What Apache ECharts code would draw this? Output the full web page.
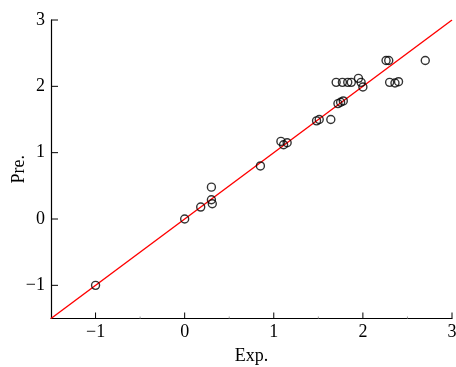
<!DOCTYPE html>
<html>
<head>
<meta charset="utf-8">
<script src="https://cdn.jsdelivr.net/npm/echarts@6/dist/echarts.min.js"></script>
<style>html,body{margin:0;padding:0;background:#fff}#c{width:456px;height:367px}</style>
</head>
<body>
<div id="c"></div>
<script>
const expValues = [-1, 0, 0.18, 0.30, 0.30, 0.31, 0.85, 1.08, 1.11, 1.15, 1.48, 1.51, 1.64, 1.72, 1.75, 1.78, 1.70, 1.77, 1.83, 1.87, 1.95, 1.98, 2.00, 2.26, 2.29, 2.30, 2.36, 2.40, 2.70];
const preValues = [-1, 0, 0.18, 0.48, 0.29, 0.23, 0.80, 1.17, 1.12, 1.15, 1.48, 1.50, 1.50, 1.74, 1.76, 1.78, 2.06, 2.06, 2.06, 2.06, 2.12, 2.06, 1.99, 2.39, 2.39, 2.06, 2.05, 2.07, 2.39];
const refLineX = [-1.5, 3];
const refLineY = [-1.5, 3];
const tickValues = [-1, 0, 1, 2, 3];
const minorTickValues = [-0.5, 0.5, 1.5, 2.5];
const axisMin = -1.5;
const axisMax = 3;
const xName = 'Exp.';
const yName = 'Pre.';

const pts = expValues.map((v, i) => [v, preValues[i]]);
const linePts = refLineX.map((v, i) => [v, refLineY[i]]);
const tickData = tickValues.map(v => [v, 1]).concat(minorTickValues.map(v => [v, 0]));
const font = "'Liberation Serif', 'Times New Roman', serif";
const fmt = v => (v < 0 ? '\u2212' + Math.abs(v) : String(v));

function renderTicks(params, api) {
  const v = api.value(0);
  const major = api.value(1) === 1;
  const px = api.coord([v, axisMin]);
  const py = api.coord([axisMin, v]);
  const lenX = major ? 6 : 2;
  const lenY = major ? 7 : 0;
  const col = major ? '#000' : '#999';
  const children = [{
    type: 'line', shape: {x1: px[0], y1: px[1], x2: px[0], y2: px[1] - lenX},
    style: {stroke: col, lineWidth: 1}
  }];
  if (lenY > 0) {
    children.push({
      type: 'line', shape: {x1: py[0], y1: py[1], x2: py[0] + lenY, y2: py[1]},
      style: {stroke: col, lineWidth: 1}
    });
  }
  return {type: 'group', children: children};
}

const chart = echarts.init(document.getElementById('c'), null, {renderer: 'canvas'});
chart.setOption({
  animation: false,
  backgroundColor: '#fff',
  grid: {left: 51, right: 4, top: 20, bottom: 48.5, containLabel: false, outerBoundsMode: 'none'},
  xAxis: {
    type: 'value', min: axisMin, max: axisMax, interval: 0.5,
    name: xName, nameLocation: 'middle', nameGap: 29, nameMoveOverlap: false,
    nameTextStyle: {fontFamily: font, fontSize: 18, color: '#000'},
    axisLine: {show: true, onZero: false, lineStyle: {color: '#000', width: 1.2}},
    axisTick: {show: false},
    axisLabel: {fontFamily: font, fontSize: 18, color: '#000', margin: 5, customValues: tickValues, formatter: fmt},
    splitLine: {show: false}
  },
  yAxis: {
    type: 'value', min: axisMin, max: axisMax, interval: 0.5,
    name: yName, nameLocation: 'middle', nameGap: 23, nameMoveOverlap: false,
    nameTextStyle: {fontFamily: font, fontSize: 18, color: '#000'},
    axisLine: {show: true, onZero: false, lineStyle: {color: '#000', width: 1.2}},
    axisTick: {show: false},
    axisLabel: {fontFamily: font, fontSize: 18, color: '#000', margin: 6, customValues: tickValues, formatter: fmt},
    splitLine: {show: false}
  },
  series: [
    {
      type: 'custom', data: tickData, renderItem: renderTicks, silent: true, clip: false, z: 1
    },
    {
      type: 'line', data: linePts, showSymbol: false, symbol: 'none',
      lineStyle: {color: '#ff0000', width: 1.4}, z: 2
    },
    {
      type: 'scatter', data: pts, symbol: 'circle', symbolSize: 8,
      itemStyle: {color: 'rgba(255,255,255,0)', borderColor: '#000', borderWidth: 1.4}, z: 3
    }
  ]
});
</script>
</body>
</html>
